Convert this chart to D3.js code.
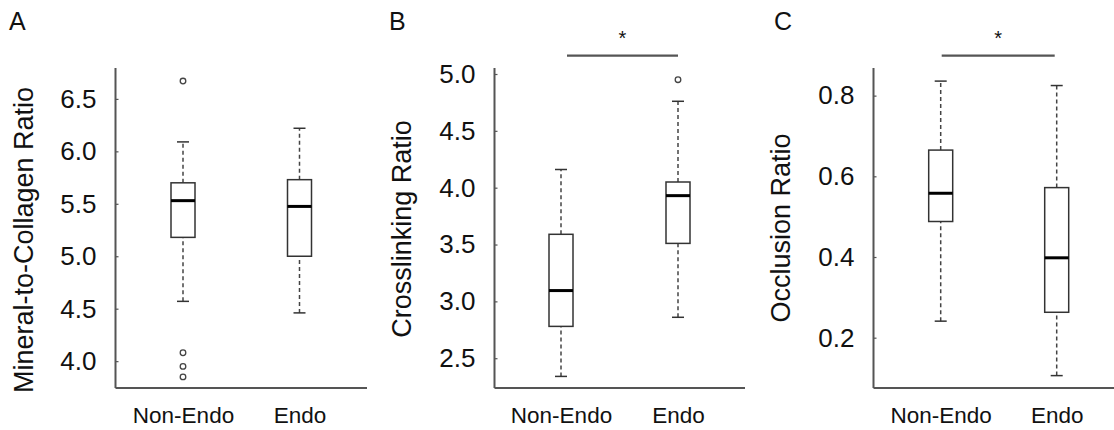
<!DOCTYPE html>
<html>
<head>
<meta charset="utf-8">
<script src="https://cdn.jsdelivr.net/npm/d3@7/dist/d3.min.js"></script>
<style>
  html, body { margin: 0; padding: 0; background: #fff; }
  svg { display: block; }
  text { font-family: "Liberation Sans", Arial, sans-serif; fill: #111; }
</style>
</head>
<body>
<svg id="chart" width="1114" height="430"></svg>
<script>
// ---- Data (five-number summaries: whisker low, Q1, median, Q3, whisker high) ----
const categories = ["Non-Endo", "Endo"];
const panelLabels = ["A", "B", "C"];
const yTitles = ["Mineral-to-Collagen Ratio", "Crosslinking Ratio", "Occlusion Ratio"];

const mineralNonEndo = [4.57, 5.18, 5.53, 5.70, 6.09];
const mineralEndo    = [4.46, 5.00, 5.475, 5.73, 6.22];
const mineralOutNonEndo = [6.67, 4.08, 3.95, 3.85];
const mineralOutEndo    = [];

const crossNonEndo = [2.34, 2.78, 3.095, 3.59, 4.16];
const crossEndo    = [2.86, 3.51, 3.93, 4.05, 4.76];
const crossOutNonEndo = [];
const crossOutEndo    = [4.95];

const occNonEndo = [0.241, 0.488, 0.558, 0.665, 0.836];
const occEndo    = [0.106, 0.263, 0.398, 0.572, 0.825];
const occOutNonEndo = [];
const occOutEndo    = [];

const ticksA = [4.0, 4.5, 5.0, 5.5, 6.0, 6.5];
const ticksB = [2.5, 3.0, 3.5, 4.0, 4.5, 5.0];
const ticksC = [0.2, 0.4, 0.6, 0.8];

const significant = [false, true, true];

// ---- Layout ----
const panels = [
  { label: panelLabels[0], title: yTitles[0], stats: [mineralNonEndo, mineralEndo], outs: [mineralOutNonEndo, mineralOutEndo],
    ticks: ticksA, domain: [3.744, 6.785], axisX: 115.5, right: 367, xr: [183, 299.5],
    labelX: 9, titleX: 33, titleY: 240, sig: significant[0], sigOff: [0, 0] },
  { label: panelLabels[1], title: yTitles[1], stats: [crossNonEndo, crossEndo], outs: [crossOutNonEndo, crossOutEndo],
    ticks: ticksB, domain: [2.238, 5.044], axisX: 494.5, right: 745, xr: [561, 678],
    labelX: 389, titleX: 411, titleY: 229, sig: significant[1], sigOff: [6, 0] },
  { label: panelLabels[2], title: yTitles[2], stats: [occNonEndo, occEndo], outs: [occOutNonEndo, occOutEndo],
    ticks: ticksC, domain: [0.0753, 0.866], axisX: 873.5, right: 1114, xr: [940.7, 1056.7],
    labelX: 774, titleX: 789.5, titleY: 228, sig: significant[2], sigOff: [1, -2] }
];

const yTop = 69, yBottom = 388;
const boxW = 24, capW = 12;
const svg = d3.select("#chart");

panels.forEach(p => {
  const g = svg.append("g");
  const y = d3.scaleLinear().domain(p.domain).range([yBottom, yTop]);
  const x = d3.scalePoint().domain(categories).range(p.xr);

  // Panel letter
  g.append("text").attr("x", p.labelX).attr("y", 30)
    .attr("font-size", 25).text(p.label);

  // Y axis
  const yAxis = d3.axisRight(y).tickValues(p.ticks).tickSize(3).tickFormat(d3.format(".1f"));
  const ya = g.append("g").attr("transform", `translate(${p.axisX},0)`).call(yAxis);
  ya.select(".domain").remove();
  ya.selectAll(".tick line").attr("stroke", "#555").attr("stroke-width", 1.2);
  ya.selectAll(".tick text").attr("x", -19).attr("text-anchor", "end")
    .attr("font-size", 26).attr("fill", "#111")
    .style("font-family", '"Liberation Sans", Arial, sans-serif');

  // Axis lines
  g.append("line").attr("x1", p.axisX).attr("x2", p.axisX).attr("y1", yTop - 1).attr("y2", yBottom)
    .attr("stroke", "#555").attr("stroke-width", 2);
  g.append("line").attr("x1", p.axisX).attr("x2", p.right).attr("y1", yBottom).attr("y2", yBottom)
    .attr("stroke", "#555").attr("stroke-width", 2);

  // X labels
  const xAxis = d3.axisBottom(x).tickSize(0).tickPadding(0);
  const xa = g.append("g").attr("transform", `translate(0,${yBottom})`).call(xAxis);
  xa.select(".domain").remove();
  xa.selectAll(".tick text").attr("y", 35).attr("dy", 0).attr("font-size", 22.5).attr("fill", "#111")
    .style("font-family", '"Liberation Sans", Arial, sans-serif');

  // Y title
  g.append("text")
    .attr("transform", `translate(${p.titleX},${p.titleY}) rotate(-90)`)
    .attr("text-anchor", "middle").attr("font-size", 27).text(p.title);

  // Boxes
  categories.forEach((c, i) => {
    const s = p.stats[i];
    const cx = x(c);
    // whiskers
    g.append("line").attr("x1", cx).attr("x2", cx).attr("y1", y(s[0])).attr("y2", y(s[1]))
      .attr("stroke", "#444").attr("stroke-width", 1.5).attr("stroke-dasharray", "4,3");
    g.append("line").attr("x1", cx).attr("x2", cx).attr("y1", y(s[3])).attr("y2", y(s[4]))
      .attr("stroke", "#444").attr("stroke-width", 1.5).attr("stroke-dasharray", "4,3");
    // caps
    [s[0], s[4]].forEach(v => {
      g.append("line").attr("x1", cx - capW / 2).attr("x2", cx + capW / 2).attr("y1", y(v)).attr("y2", y(v))
        .attr("stroke", "#333").attr("stroke-width", 1.5);
    });
    // box
    g.append("rect").attr("x", cx - boxW / 2).attr("width", boxW)
      .attr("y", y(s[3])).attr("height", y(s[1]) - y(s[3]))
      .attr("fill", "#fff").attr("stroke", "#333").attr("stroke-width", 1.5);
    // median
    g.append("line").attr("x1", cx - boxW / 2).attr("x2", cx + boxW / 2).attr("y1", y(s[2])).attr("y2", y(s[2]))
      .attr("stroke", "#000").attr("stroke-width", 3);
    // outliers
    p.outs[i].forEach(v => {
      g.append("circle").attr("cx", cx).attr("cy", y(v)).attr("r", 2.8)
        .attr("fill", "none").attr("stroke", "#444").attr("stroke-width", 1.3);
    });
  });

  // Significance bar
  if (p.sig) {
    const x1 = x(categories[0]) + p.sigOff[0], x2 = x(categories[1]) + p.sigOff[1];
    g.append("line").attr("x1", x1).attr("x2", x2).attr("y1", 55.7).attr("y2", 55.7)
      .attr("stroke", "#555").attr("stroke-width", 2.2);
    g.append("text").attr("x", (x1 + x2) / 2).attr("y", 45).attr("text-anchor", "middle")
      .attr("font-size", 20).text("*");
  }
});
</script>
</body>
</html>
